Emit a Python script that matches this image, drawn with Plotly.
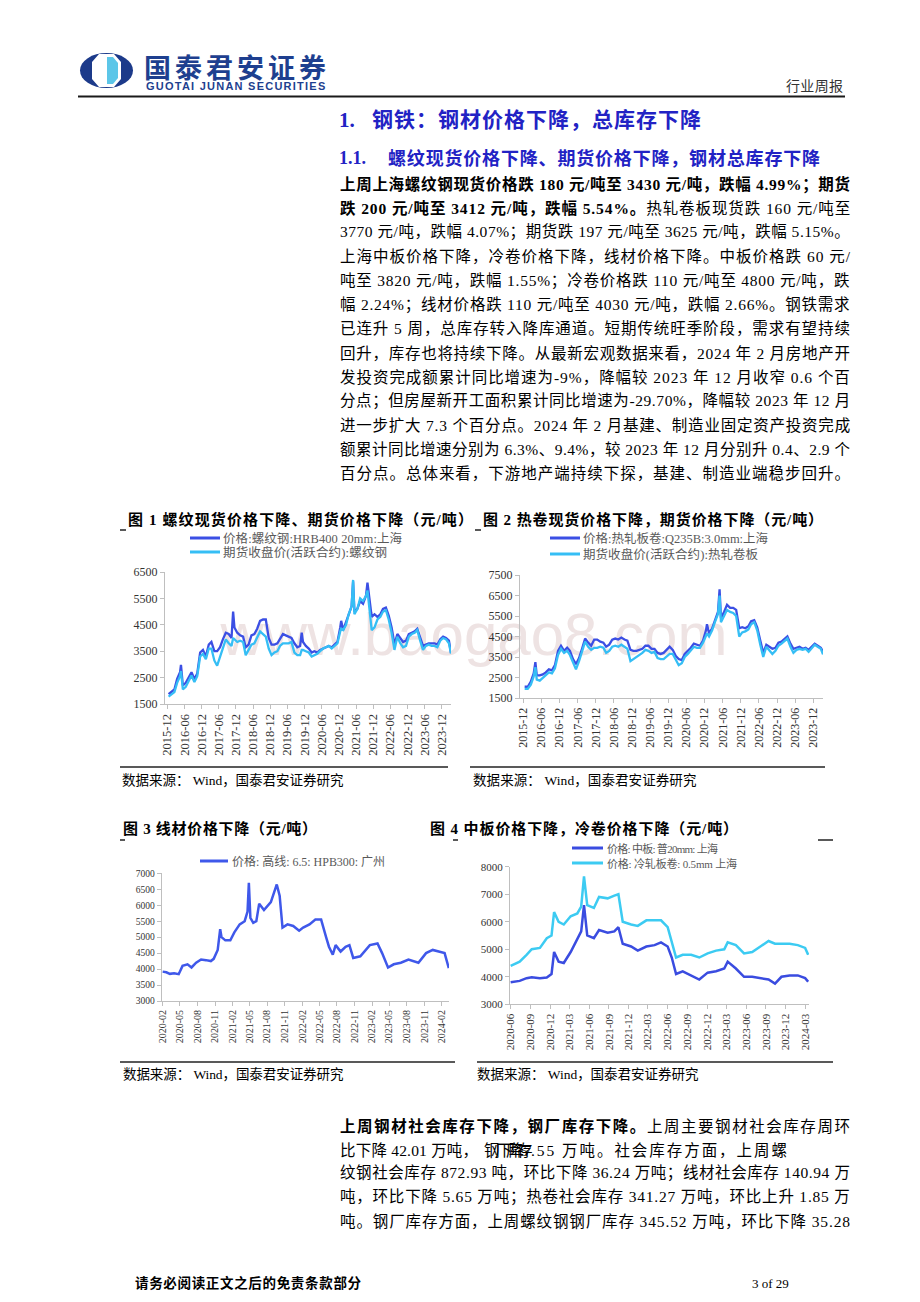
import pandas as pd
import plotly.graph_objects as go

W, H = 920, 1302

# ---------------- Chart 1: rebar Shanghai spot / futures (mid-month readings, 2015-12 .. 2024-02) ----------------
rebar_spot = [
    1870,
    1960, 2050, 2450, 2700, 2200, 2300, 2500, 2700, 2450, 2650, 3450, 3550,
    3300, 3750, 3850, 3500, 3500, 3650, 3950, 4200, 4150, 4000, 4400, 4200,
    4100, 4050, 3650, 3750, 4100, 4150, 4350, 4650, 4700, 4700, 4000, 3750,
    3750, 3800, 3950, 4150, 4100, 4050, 4000, 3800, 3650, 3700, 3850, 3700,
    3600, 3450, 3500, 3450, 3550, 3600, 3650, 3700, 3650, 3750, 3850, 4400,
    4300, 4600, 4850, 5200, 5000, 5100, 5400, 5300, 5600, 5700, 4800, 4900,
    4800, 4900, 5100, 5150, 4850, 4400, 3750, 4150, 4000, 3850, 3900, 4150,
    4200, 4250, 4350, 4050, 3700, 3750, 3800, 3800, 3800, 3750, 3950, 4050,
    4000, 3900,
]
rebar_fut = [
    1780,
    1850, 1950, 2300, 2550, 2050, 2150, 2350, 2580, 2330, 2550, 3300, 3400,
    3200, 3600, 3600, 3150, 2950, 3300, 3650, 3950, 3800, 3700, 3950, 3850,
    3900, 3850, 3350, 3550, 3750, 3800, 4000, 4250, 4150, 4050, 3600, 3350,
    3450, 3500, 3700, 3800, 3800, 3800, 3850, 3450, 3350, 3350, 3550, 3500,
    3450, 3300, 3350, 3400, 3500, 3600, 3650, 3700, 3600, 3700, 3800, 4250,
    4300, 4500, 4900, 5200, 4900, 5100, 5500, 5400, 5600, 5300, 4300, 4400,
    4700, 4800, 5000, 5050, 4700, 4200, 3550, 4050, 3800, 3650, 3700, 4050,
    4150, 4200, 4300, 3900, 3550, 3700, 3750, 3700, 3700, 3650, 3900, 4000,
    3950, 3800,
]
rebar_extra_dates = ["2016-04-25", "2017-11-01", "2019-11-01", "2020-12-25", "2021-05-01", "2021-10-01", "2024-03-08"]
rebar_extra_spot = [2980, 5000, 4200, 4650, 6150, 6100, 3430]
rebar_extra_fut = [2750, 4000, 3550, 4350, 6200, 5800, 3412]

# ---------------- Chart 2: hot-rolled coil spot / futures ----------------
hrc_spot = [
    2050,
    2050, 2300, 2700, 2600, 2600, 2650, 2750, 2900, 2850, 3100, 3800, 4050,
    3800, 3950, 3800, 3400, 3150, 3450, 3900, 4400, 4200, 4050, 4350, 4350,
    4250, 4200, 4000, 4100, 4350, 4400, 4350, 4450, 4350, 4300, 3850, 3800,
    3800, 3850, 3900, 4050, 4050, 3900, 3900, 3700, 3650, 3700, 3850, 4000,
    3850, 3550, 3400, 3350, 3650, 3800, 3950, 4150, 4100, 4050, 4300, 4800,
    4650, 4900, 5300, 5700, 5400, 5700, 6050, 5900, 5900, 5800, 4900, 4950,
    4900, 5000, 5250, 5300, 4950, 4300, 3700, 4100, 4000, 3900, 3950, 4200,
    4250, 4400, 4500, 4150, 3900, 3950, 4000, 3900, 3950, 3850, 4000, 4150,
    4050, 3950,
]
hrc_fut = [
    1950,
    1950, 2150, 2550, 2400, 2350, 2500, 2600, 2750, 2700, 2950, 3600, 3900,
    3700, 3800, 3600, 3200, 2900, 3300, 3750, 4250, 4000, 3850, 3950, 3950,
    4000, 3950, 3700, 3800, 4000, 4050, 4000, 4100, 4000, 3900, 3300, 3400,
    3500, 3600, 3700, 3850, 3800, 3700, 3750, 3450, 3400, 3400, 3550, 3650,
    3650, 3350, 3100, 3200, 3500, 3650, 3850, 4000, 3950, 3950, 4200, 4500,
    4500, 4800, 5200, 5600, 5200, 5500, 5800, 5700, 5650, 5500, 4500, 4700,
    4750, 4850, 5100, 5200, 4800, 4100, 3500, 4000, 3800, 3650, 3800, 4050,
    4150, 4300, 4400, 4000, 3700, 3850, 3900, 3850, 3900, 3750, 3950, 4100,
    4000, 3900,
]
hrc_extra_dates = ["2016-04-01", "2020-12-25", "2021-05-01", "2024-03-08"]
hrc_extra_spot = [3250, 5100, 6800, 3770]
hrc_extra_fut = [3000, 4650, 6500, 3625]

# ---------------- Chart 3: wire rod Guangzhou ----------------
wire_dates = [
    "2020-02-01", "2020-02-20", "2020-03-10", "2020-04-01", "2020-04-25", "2020-05-15", "2020-06-10",
    "2020-07-01", "2020-07-25", "2020-08-20", "2020-09-15", "2020-10-10", "2020-10-25", "2020-11-15",
    "2020-11-28", "2020-12-05", "2020-12-25", "2021-01-20", "2021-02-10", "2021-03-10", "2021-04-05",
    "2021-04-20", "2021-04-27", "2021-05-05", "2021-05-20", "2021-06-05", "2021-06-20", "2021-07-15",
    "2021-08-20", "2021-09-20", "2021-10-05", "2021-10-20", "2021-11-15", "2021-12-15", "2022-01-15",
    "2022-02-05", "2022-03-10", "2022-04-10", "2022-05-10", "2022-05-25", "2022-06-05", "2022-06-20",
    "2022-07-10", "2022-07-25", "2022-08-20", "2022-09-15", "2022-10-05", "2022-10-25", "2022-12-01",
    "2023-01-20", "2023-03-01", "2023-03-25", "2023-04-25", "2023-05-25", "2023-07-01", "2023-08-10",
    "2023-10-01", "2023-11-10", "2023-12-15", "2024-01-15", "2024-02-15", "2024-03-08",
]
wire_price = [
    3920, 3900, 3850, 3870, 3840, 4100, 4150,
    4050, 4200, 4300, 4280, 4250, 4320, 4600,
    5250, 5000, 4900, 4900, 5150, 5400, 5500,
    5800, 6700, 5600, 5450, 5500, 6050, 5850,
    6100, 6650, 6300, 5300, 5400, 5350, 5200,
    5300, 5400, 5550, 5550, 5200, 5000, 4700,
    4450, 4750, 4550, 4700, 4750, 4350, 4400,
    4750, 4800, 4500, 4050, 4150, 4200, 4300,
    4200, 4500, 4600, 4550, 4500, 4030,
]

# ---------------- Chart 4: medium plate / cold-rolled coil Shanghai ----------------
plate_dates = [
    "2020-06-01", "2020-07-13", "2020-08-14", "2020-09-07", "2020-10-15", "2020-11-16", "2020-12-08",
    "2020-12-20", "2021-01-10", "2021-02-03", "2021-03-07", "2021-04-07", "2021-04-25", "2021-05-08",
    "2021-05-23", "2021-06-23", "2021-07-17", "2021-08-26", "2021-09-26", "2021-10-15", "2021-11-04",
    "2021-12-13", "2022-01-13", "2022-02-22", "2022-04-01", "2022-05-01", "2022-06-01", "2022-06-20",
    "2022-07-10", "2022-08-10", "2022-09-18", "2022-10-26", "2022-12-04", "2023-01-12", "2023-02-19",
    "2023-03-07", "2023-04-14", "2023-05-22", "2023-06-29", "2023-08-06", "2023-09-13", "2023-10-13",
    "2023-11-12", "2023-12-20", "2024-01-27", "2024-03-01", "2024-03-15",
]
plate_price = [
    3800, 3850, 3950, 3980, 3950, 3970, 4100,
    4900, 4550, 4500, 4900, 5400, 5650, 6600,
    5500, 5400, 5700, 5600, 5650, 5800, 5200,
    5100, 4950, 5100, 5150, 5250, 5100, 4700,
    4100, 4200, 4050, 3900, 4150, 4200, 4300,
    4550, 4300, 4000, 4000, 3950, 3900, 3750,
    4000, 4050, 4050, 3950, 3820,
]
cold_price = [
    4400, 4550, 4800, 5000, 5050, 5400, 5500,
    6350, 6000, 5900, 6200, 6300, 6550, 7650,
    6600, 6500, 6900, 6850, 6950, 7000, 6000,
    5900, 5850, 6050, 6050, 6050, 5800, 5300,
    4700, 4800, 4800, 4700, 4850, 4950, 5000,
    5250, 5150, 4850, 4900, 5100, 5300, 5200,
    5200, 5200, 5150, 5050, 4800,
]

# ---------------- helpers ----------------
SERIF = "Liberation Serif, Noto Sans CJK SC"
CJK = "Noto Sans CJK SC"
AX = "#BFBFBF"
TICK = "#333333"
SPOT = "#3B4FE4"
FUT = "#35BEF5"

UP = dict(A=.722, B=.667, C=.667, D=.722, E=.611, F=.556, G=.722, H=.722, I=.333, J=.389, K=.722, L=.611,
          M=.889, N=.722, O=.722, P=.556, Q=.722, R=.667, S=.556, T=.611, U=.722, V=.722, W=.944, X=.722,
          Y=.722, Z=.611)
LOW = dict(a=.444, b=.5, c=.444, d=.5, e=.444, f=.333, g=.5, h=.5, i=.278, j=.278, k=.5, l=.278, m=.778,
           n=.5, o=.5, p=.5, q=.5, r=.333, s=.389, t=.278, u=.5, v=.5, w=.722, x=.5, y=.5, z=.444)
PUN = {' ': .25, '(': .333, ')': .333, ',': .25, '-': .333, '.': .25, '/': .278, ':': .278, ';': .278}
ARIALB = dict(G=.778, U=.722, O=.778, T=.611, A=.722, I=.278, J=.556, N=.722, S=.667, E=.667, C=.722, R=.722)


def cw(c, bold=False, sans=False):
    if ord(c) >= 0x2E80:
        return 1.0
    if sans:
        return ARIALB.get(c, .278)
    if c.isdigit():
        return .5
    if c == '%':
        return 1.0 if bold else .833
    if c in UP:
        return UP[c]
    if c in LOW:
        return LOW[c]
    return PUN.get(c, .5)


annotations = []
shapes = []


def jtext(segs, x0, y, size, x1=None, color="#000000", family=SERIF, sans=False, ls=None):
    n = sum(len(t) for t, _ in segs)
    w = sum(cw(c, b, sans) for t, b in segs for c in t) * size
    if ls is None:
        ls = 0.0
        if x1 is not None and n > 1:
            ls = (x1 - x0 - w) / (n - 1)
    parts = []
    for t, b in segs:
        st = "letter-spacing:%.2fpx" % ls
        if b:
            st += ";font-weight:bold"
        parts.append('<span style="%s">%s</span>' % (st, t))
    annotations.append(dict(xref="x", yref="y", x=x0, y=y, text="".join(parts), showarrow=False,
                            xanchor="left", yanchor="middle", borderpad=0, borderwidth=0,
                            font=dict(size=size, color=color, family=family)))


def hline(x0, x1, y, color="#222222", width=1.5):
    shapes.append(dict(type="line", xref="x", yref="y", x0=x0, x1=x1, y0=y, y1=y,
                       line=dict(color=color, width=width)))


def series(months, start, extra_dates, extra_vals):
    d = pd.date_range(start, periods=len(months), freq="MS") + pd.Timedelta(days=14)
    s = pd.Series(list(months) + list(extra_vals), index=list(d) + list(pd.to_datetime(extra_dates)))
    return s.sort_index()


fig = go.Figure()

# watermark (page axis, drawn first so it sits under the lines)
fig.add_trace(go.Scatter(x=[474], y=[640], mode="text", text=["www.baogao8.com"],
                         textfont=dict(family="Liberation Sans, Arial", size=60, color="#EEE3E3"),
                         xaxis="x", yaxis="y", hoverinfo="skip", showlegend=False))

s1 = series(rebar_spot, "2015-12-01", rebar_extra_dates, rebar_extra_spot)
f1 = series(rebar_fut, "2015-12-01", rebar_extra_dates, rebar_extra_fut)
s2 = series(hrc_spot, "2015-12-01", hrc_extra_dates, hrc_extra_spot)
f2 = series(hrc_fut, "2015-12-01", hrc_extra_dates, hrc_extra_fut)

LW = 2.3
fig.add_trace(go.Scatter(x=s1.index, y=s1.values, mode="lines", line=dict(color=SPOT, width=LW),
                         name="价格:螺纹钢:HRB400 20mm:上海", xaxis="x2", yaxis="y2"))
fig.add_trace(go.Scatter(x=f1.index, y=f1.values, mode="lines", line=dict(color=FUT, width=LW),
                         name="期货收盘价(活跃合约):螺纹钢", xaxis="x2", yaxis="y2"))
fig.add_trace(go.Scatter(x=s2.index, y=s2.values, mode="lines", line=dict(color=SPOT, width=LW),
                         name="价格:热轧板卷:Q235B:3.0mm:上海", xaxis="x3", yaxis="y3"))
fig.add_trace(go.Scatter(x=f2.index, y=f2.values, mode="lines", line=dict(color=FUT, width=LW),
                         name="期货收盘价(活跃合约):热轧卷板", xaxis="x3", yaxis="y3"))
fig.add_trace(go.Scatter(x=pd.to_datetime(wire_dates), y=wire_price, mode="lines",
                         line=dict(color="#3F58EA", width=2.5),
                         name="价格: 高线: 6.5: HPB300: 广州", xaxis="x4", yaxis="y4"))
fig.add_trace(go.Scatter(x=pd.to_datetime(plate_dates), y=plate_price, mode="lines",
                         line=dict(color="#3A4CE0", width=2.5),
                         name="价格: 中板: 普20mm: 上海", xaxis="x5", yaxis="y5"))
fig.add_trace(go.Scatter(x=pd.to_datetime(plate_dates), y=cold_price, mode="lines",
                         line=dict(color="#3CCBF2", width=2.5),
                         name="价格: 冷轧板卷: 0.5mm 上海", xaxis="x5", yaxis="y5"))


def xdate(px0, px1, anchor, rng, ticks, fsize):
    return dict(domain=[px0 / W, px1 / W], anchor=anchor, type="date", range=rng,
                tickvals=list(ticks), ticktext=[t.strftime("%Y-%m") for t in ticks], tickangle=-90,
                ticks="outside", ticklen=4, tickcolor=AX, showline=True, linecolor=AX, linewidth=1,
                showgrid=False, zeroline=False, automargin=False, fixedrange=True,
                tickfont=dict(family=SERIF, size=fsize, color=TICK))


def yval(top, bot, anchor, rng, dtick, fsize):
    vals = list(range(rng[0], rng[1] + 1, dtick))
    return dict(domain=[1 - bot / H, 1 - top / H], anchor=anchor, range=rng, tickvals=vals,
                ticktext=[str(v) for v in vals], ticks="outside", ticklen=4, tickcolor=AX, showline=True,
                linecolor=AX, linewidth=1, showgrid=False, zeroline=False, automargin=False,
                fixedrange=True, tickfont=dict(family=SERIF, size=fsize, color=TICK))


t1 = pd.date_range("2015-12-01", "2023-12-01", freq="6MS")
t3 = pd.date_range("2020-02-01", "2024-02-01", freq="3MS")
t4 = pd.date_range("2020-06-01", "2024-03-01", freq="3MS")

# ---------------- page text ----------------
# header
shapes.append(dict(type="circle", xref="x", yref="y", x0=80, x1=133, y0=53, y1=88,
                   fillcolor="#1C3A8A", line=dict(width=0)))
shapes.append(dict(type="path", xref="x", yref="y",
                   path="M 99 54 L 114 54 L 121 62 L 121 79 L 114 87 L 99 87 L 92 79 L 92 62 Z",
                   fillcolor="white", line=dict(width=0)))
shapes.append(dict(type="path", xref="x", yref="y",
                   path="M 107 57 L 113 57 L 118 63 L 118 78 L 113 84 L 107 84 Z",
                   fillcolor="#5CC6E8", line=dict(width=0)))
jtext([("国泰君安证券", True)], 144, 66, 27, 326, color="#1E3F8F", family=CJK)
jtext([("GUOTAI JUNAN SECURITIES", True)], 146, 86, 11, 326, color="#1E3F8F",
      family="Liberation Sans, Arial", sans=True)
jtext([("行业周报", False)], 786, 85, 14, 843, color="#333333", family=CJK)
hline(78, 845, 96.5, color="#1A1A1A", width=2)

BLUE = "#2222C4"
jtext([("1.", True)], 339, 120, 21, color=BLUE)
jtext([("钢铁：钢材价格下降，总库存下降", True)], 372, 120, 21, 701, color=BLUE)
jtext([("1.1.", True)], 339, 158, 18, color=BLUE)
jtext([("螺纹现货价格下降、期货价格下降，钢材总库存下降", True)], 388, 158, 18, 820, color=BLUE)

body = [
    [("上周上海螺纹钢现货价格跌 180 元/吨至 3430 元/吨，跌幅 4.99%；期货", True)],
    [("跌 200 元/吨至 3412 元/吨，跌幅 5.54%。", True), ("热轧卷板现货跌 160 元/吨至", False)],
    [("3770 元/吨，跌幅 4.07%；期货跌 197 元/吨至 3625 元/吨，跌幅 5.15%。", False)],
    [("上海中板价格下降，冷卷价格下降，线材价格下降。中板价格跌 60 元/", False)],
    [("吨至 3820 元/吨，跌幅 1.55%；冷卷价格跌 110 元/吨至 4800 元/吨，跌", False)],
    [("幅 2.24%；线材价格跌 110 元/吨至 4030 元/吨，跌幅 2.66%。钢铁需求", False)],
    [("已连升 5 周，总库存转入降库通道。短期传统旺季阶段，需求有望持续", False)],
    [("回升，库存也将持续下降。从最新宏观数据来看，2024 年 2 月房地产开", False)],
    [("发投资完成额累计同比增速为-9%，降幅较 2023 年 12 月收窄 0.6 个百", False)],
    [("分点；但房屋新开工面积累计同比增速为-29.70%，降幅较 2023 年 12 月", False)],
    [("进一步扩大 7.3 个百分点。2024 年 2 月基建、制造业固定资产投资完成", False)],
    [("额累计同比增速分别为 6.3%、9.4%，较 2023 年 12 月分别升 0.4、2.9 个", False)],
    [("百分点。总体来看，下游地产端持续下探，基建、制造业端稳步回升。", False)],
]
for i, segs in enumerate(body):
    jtext(segs, 340, 184 + 24.15 * i, 15.5, 850)

# chart titles and rules
jtext([("图 1 螺纹现货价格下降、期货价格下降（元/吨）", True)], 128, 519, 15, 473)
jtext([("图 2 热卷现货价格下降，期货价格下降（元/吨）", True)], 483, 519, 15, 823)
jtext([("图 3 线材价格下降（元/吨）", True)], 123, 828, 15, 317)
jtext([("图 4 中板价格下降，冷卷价格下降（元/吨）", True)], 430, 828, 15, 738)
hline(120, 126, 530)
hline(475, 481, 530)
hline(120, 125, 840)
hline(453, 458, 840)
hline(818, 833, 840)
hline(120, 448, 767)
hline(470, 825, 767)
hline(120, 455, 1062)
hline(477, 833, 1062)
SRC = [("数据来源： Wind，国泰君安证券研究", False)]
jtext(SRC, 122, 780, 13.5, 344)
jtext(SRC, 473, 780, 13.5, 697)
jtext(SRC, 123, 1074, 13.5, 344)
jtext(SRC, 477, 1074, 13.5, 699)

# legends
LG = "#595959"
def legline(x0, x1, y, color):
    shapes.append(dict(type="line", xref="x", yref="y", x0=x0, x1=x1, y0=y, y1=y,
                       line=dict(color=color, width=3)))

legline(190, 220, 538, SPOT)
jtext([("价格:螺纹钢:HRB400 20mm:上海", False)], 223, 538, 12.5, 402, color=LG)
legline(190, 220, 552, FUT)
jtext([("期货收盘价(活跃合约):螺纹钢", False)], 223, 552, 12.5, 387, color=LG)
legline(550, 580, 538, SPOT)
jtext([("价格:热轧板卷:Q235B:3.0mm:上海", False)], 583, 538, 12.5, 768, color=LG)
legline(550, 580, 554, FUT)
jtext([("期货收盘价(活跃合约):热轧卷板", False)], 583, 554, 12.5, 758, color=LG)
legline(200, 228, 861, "#3F58EA")
jtext([("价格: 高线: 6.5: HPB300: 广州", False)], 232, 861, 12, 385, color=LG)
legline(572, 603, 848, "#3A4CE0")
jtext([("价格: 中板: 普20mm: 上海", False)], 607, 848, 11, 718, color=LG)
legline(572, 603, 863, "#3CCBF2")
jtext([("价格: 冷轧板卷: 0.5mm 上海", False)], 607, 863, 11, 737, color=LG)

# lower paragraph
jtext([("上周钢材社会库存下降，钢厂库存下降。", True), ("上周主要钢材社会库存周环", False)],
      340, 1126, 15.5, 850)
jtext([("比下降 42.01 万吨，", False)], 340, 1150, 15.5, 478)
jtext([("钢厂库存", False)], 484, 1150, 15.5, ls=-4.5)
jtext([("下降57", False)], 497, 1150, 15.5, ls=-4.0)
jtext([(".55 万吨。社会库存方面，上周螺", False)], 531, 1150, 15.5, 787)
jtext([("纹钢社会库存 872.93 吨，环比下降 36.24 万吨；线材社会库存 140.94 万", False)],
      340, 1173, 15.5, 850)
jtext([("吨，环比下降 5.65 万吨；热卷社会库存 341.27 万吨，环比上升 1.85 万", False)],
      340, 1197, 15.5, 850)
jtext([("吨。钢厂库存方面，上周螺纹钢钢厂库存 345.52 万吨，环比下降 35.28", False)],
      340, 1221, 15.5, 850)

# footer
jtext([("请务必阅读正文之后的免责条款部分", True)], 135, 1283, 13.5, 361)
jtext([("3 of 29", False)], 752, 1283, 13)

fig.update_layout(
    template="none", width=W, height=H, autosize=False,
    margin=dict(l=0, r=0, t=0, b=0, pad=0),
    paper_bgcolor="white", plot_bgcolor="rgba(0,0,0,0)", showlegend=False,
    xaxis=dict(domain=[0, 1], range=[0, W], visible=False, fixedrange=True),
    yaxis=dict(domain=[0, 1], range=[H, 0], visible=False, fixedrange=True),
    xaxis2=xdate(165, 451, "y2", ["2015-11-07", "2024-03-08"], t1, 12.5),
    yaxis2=yval(572, 704, "x2", [1500, 6500], 1000, 12),
    xaxis3=xdate(520, 823, "y3", ["2015-10-29", "2024-03-08"], t1, 12),
    yaxis3=yval(575, 698, "x3", [1500, 7500], 1000, 12),
    xaxis4=xdate(161.7, 449, "y4", ["2020-01-27", "2024-03-09"], t3, 10),
    yaxis4=yval(873.3, 1001, "x4", [3000, 7000], 500, 9.5),
    xaxis5=xdate(510, 809, "y5", ["2020-05-29", "2024-03-19"], t4, 11),
    yaxis5=yval(866.7, 1004.3, "x5", [3000, 8000], 1000, 11),
    annotations=annotations, shapes=shapes,
)

fig.write_html("out.html", config={"displayModeBar": False},
               post_script="document.body.style.margin='0';")
